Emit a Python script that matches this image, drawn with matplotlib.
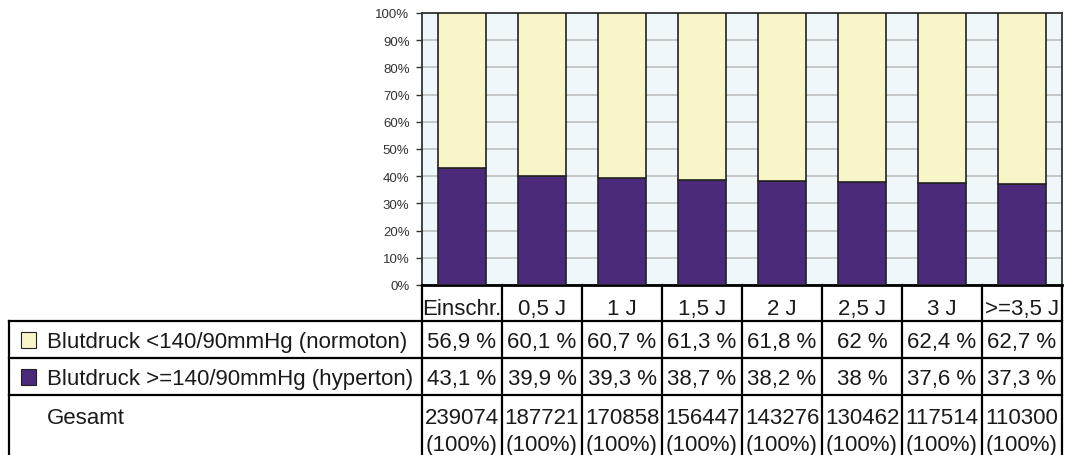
import numpy as np
import matplotlib.pyplot as plt
from matplotlib.patches import Rectangle

plt.rcParams['font.family'] = ['Liberation Sans', 'DejaVu Sans']

categories = ['Einschr.', '0,5 J', '1 J', '1,5 J', '2 J', '2,5 J', '3 J', '>=3,5 J']
normo = [56.9, 60.1, 60.7, 61.3, 61.8, 62, 62.4, 62.7]
hyper = [43.1, 39.9, 39.3, 38.7, 38.2, 38, 37.6, 37.3]
totals = [239074, 187721, 170858, 156447, 143276, 130462, 117514, 110300]
series_labels = ['Blutdruck <140/90mmHg (normoton)', 'Blutdruck >=140/90mmHg (hyperton)']

c_yellow = '#F8F6C8'
c_purple = '#4B297B'
c_bg = '#F0F7FA'
W, H = 1072, 456

fig = plt.figure(figsize=(W / 100, H / 100), dpi=100)

# bar chart area (pixel box 422..1062 x 14..286)
ax = fig.add_axes([422 / W, (H - 286) / H, 640 / W, 272 / H])
x = np.arange(len(categories))
ax.set_facecolor(c_bg)
ax.bar(x, hyper, width=0.6, color=c_purple, edgecolor='#222222', linewidth=1.2, zorder=3)
ax.bar(x, normo, width=0.6, bottom=hyper, color=c_yellow, edgecolor='#222222', linewidth=1.2, zorder=3)
ax.set_xlim(-0.5, len(categories) - 0.5)
ax.set_ylim(0, 100)
ax.set_yticks(np.arange(0, 101, 10))
ax.set_yticklabels([f'{v}%' for v in range(0, 101, 10)], fontsize=9.5, color='#333333')
ax.yaxis.grid(True, color='#C2C2C2', linewidth=1.3, zorder=0)
ax.set_axisbelow(True)
ax.set_xticks([])
ax.tick_params(axis='y', length=4, width=1, color='#333333', pad=5)
for s in ['left', 'top', 'right']:
    ax.spines[s].set_color('#333333')
    ax.spines[s].set_linewidth(1.3)
ax.spines['bottom'].set_color('black')
ax.spines['bottom'].set_linewidth(2)

# data table below (pixel box 9..1062 x 286..456)
tx = fig.add_axes([9 / W, 0, (1062 - 9) / W, 170 / H])
x0 = -0.5 - (422 - 9) / 80
tx.set_xlim(x0, len(categories) - 0.5)
tx.set_ylim(170, 0)
tx.axis('off')

def px(p):
    return -0.5 + (p - 422) / 80

lw = 1.6
edges = np.arange(len(categories) + 1) - 0.5
# horizontal lines
for yl in [36, 73, 110]:
    tx.plot([x0, edges[-1]], [yl, yl], color='black', lw=lw, clip_on=False)
# vertical lines
for e in edges:
    tx.plot([e, e], [0, 175], color='black', lw=lw, clip_on=False)
tx.plot([x0, x0], [36, 175], color='black', lw=lw, clip_on=False)

fs = 16
tc = '#1a1a1a'
kw = dict(ha='center', va='baseline', fontsize=fs, color=tc)
for i, c in enumerate(categories):
    tx.text(i, 29, c, **kw)
    tx.text(i, 62, ('%g' % normo[i]).replace('.', ',') + ' %', **kw)
    tx.text(i, 99, ('%g' % hyper[i]).replace('.', ',') + ' %', **kw)
    tx.text(i, 138, str(totals[i]), **kw)
    tx.text(i, 165.5, '(100%)', **kw)

for yb, lab, col in [(62, series_labels[0], c_yellow), (99, series_labels[1], c_purple)]:
    tx.add_patch(Rectangle((px(21), yb - 15), px(36) - px(21), 15.5, facecolor=col,
                           edgecolor='#222222', lw=0.8, clip_on=False))
    tx.text(px(47), yb, lab, ha='left', va='baseline', fontsize=fs, color=tc)
tx.text(px(47), 138, 'Gesamt', ha='left', va='baseline', fontsize=fs, color=tc)

fig.savefig('out.png', dpi=100)
